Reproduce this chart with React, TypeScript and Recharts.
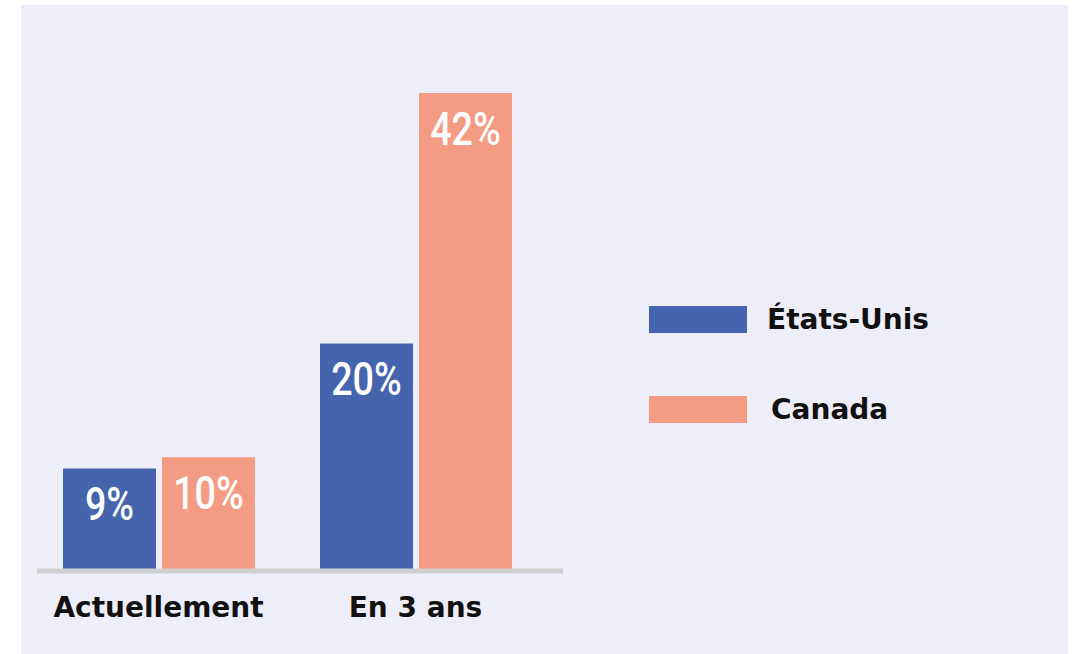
import { BarChart, Bar, XAxis, YAxis, LabelList } from "recharts"

// Share of respondents, by period
const categories = ["Actuellement", "En 3 ans"]
const etatsUnis = [9, 20]
const canada = [10, 42]

const seriesNames = ["États-Unis", "Canada"]
const seriesColors = ["#4465ae", "#f39c83"]

const data = categories.map((name, i) => ({
  name,
  etatsUnis: etatsUnis[i],
  canada: canada[i],
}))

const textFont = "'DejaVu Sans', sans-serif"

// condensed white value label drawn near the top of each bar
const ValueLabel = (props: any) => {
  const { x, y, width, value } = props
  const cx = Number(x) + Number(width) / 2
  return (
    <text
      transform={`translate(${cx},${Number(y) + 19}) scale(0.82,1)`}
      textAnchor="middle"
      dy="0.71em"
      fill="#ffffff"
      fontSize={46}
      fontWeight={500}
      fontFamily="Roboto, sans-serif"
    >
      {`${value}%`}
    </text>
  )
}

export default function App() {
  return (
    <div style={{ position: "fixed", left: 0, top: 0, width: 1074, height: 654, background: "#ffffff" }}>
      <div style={{ position: "absolute", left: 21, top: 5, width: 1047, height: 649, background: "#eeeef8" }} />
      <div style={{ position: "absolute", left: 0, top: 0 }}>
        <BarChart
          width={1074}
          height={654}
          data={data}
          margin={{ top: 93, right: 511, bottom: 33, left: 37 }}
          barSize={93}
          barGap={6}
        >
          <YAxis hide domain={[0, 42]} />
          <XAxis
            dataKey="name"
            height={50}
            padding={{ left: -7, right: 19 }}
            axisLine={{ stroke: "#cfcfcf", strokeWidth: 5 }}
            tickLine={false}
            tickSize={0}
            tickMargin={26}
            tick={{ fill: "#111111", fontSize: 28, fontWeight: 700, fontFamily: textFont }}
          />
          <Bar dataKey="etatsUnis" name={seriesNames[0]} fill={seriesColors[0]} isAnimationActive={false}>
            <LabelList dataKey="etatsUnis" content={ValueLabel} />
          </Bar>
          <Bar dataKey="canada" name={seriesNames[1]} fill={seriesColors[1]} isAnimationActive={false}>
            <LabelList dataKey="canada" content={ValueLabel} />
          </Bar>
        </BarChart>
      </div>
      {/* legend */}
      {seriesNames.map((name, i) => (
        <div
          key={name}
          style={{
            position: "absolute",
            left: 649,
            top: 306 + i * 90,
            display: "flex",
            alignItems: "center",
            fontFamily: textFont,
            fontWeight: 700,
            fontSize: 28,
            color: "#111111",
          }}
        >
          <div style={{ width: 98, height: 27, background: seriesColors[i] }} />
          <span style={{ marginLeft: i === 0 ? 20 : 24, lineHeight: "27px", whiteSpace: "nowrap" }}>{name}</span>
        </div>
      ))}
    </div>
  )
}
